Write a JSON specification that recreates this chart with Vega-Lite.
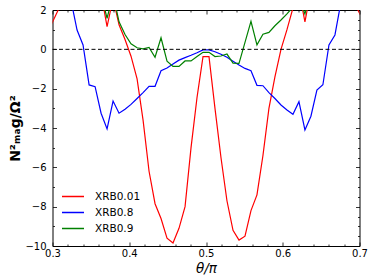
{
  "$schema": "https://vega.github.io/schema/vega-lite/v6.json",
  "width": 307,
  "height": 236,
  "autosize": {"type": "none"},
  "padding": {"left": 52.5, "top": 10, "right": 14.5, "bottom": 34},
  "config": {
    "font": "DejaVu Sans",
    "view": {"stroke": null},
    "axis": {
      "domainColor": "black", "domainWidth": 1, "tickColor": "black", "tickWidth": 0.8,
      "labelFont": "DejaVu Sans", "labelFontSize": 10, "labelColor": "black",
      "grid": false, "titleColor": "black", "labelFlush": false, "labelOverlap": false
    }
  },
  "datasets": {
    "lines": [
      {"series":"XRB0.01","theta":0.2930,"value":0.8},
      {"series":"XRB0.01","theta":0.3008,"value":1.45},
      {"series":"XRB0.01","theta":0.3086,"value":2.1},
      {"series":"XRB0.01","theta":0.3164,"value":3.0},
      {"series":"XRB0.01","theta":0.3242,"value":4.0},
      {"series":"XRB0.01","theta":0.3320,"value":4.5},
      {"series":"XRB0.01","theta":0.3398,"value":4.5},
      {"series":"XRB0.01","theta":0.3477,"value":4.0},
      {"series":"XRB0.01","theta":0.3555,"value":3.5},
      {"series":"XRB0.01","theta":0.3633,"value":2.85},
      {"series":"XRB0.01","theta":0.3711,"value":1.15},
      {"series":"XRB0.01","theta":0.3789,"value":2.6},
      {"series":"XRB0.01","theta":0.3867,"value":1.25},
      {"series":"XRB0.01","theta":0.3945,"value":0.5},
      {"series":"XRB0.01","theta":0.4023,"value":-0.35},
      {"series":"XRB0.01","theta":0.4102,"value":-1.5},
      {"series":"XRB0.01","theta":0.4180,"value":-3.6},
      {"series":"XRB0.01","theta":0.4258,"value":-6.2},
      {"series":"XRB0.01","theta":0.4336,"value":-7.85},
      {"series":"XRB0.01","theta":0.4414,"value":-8.6},
      {"series":"XRB0.01","theta":0.4492,"value":-9.6},
      {"series":"XRB0.01","theta":0.4570,"value":-9.85},
      {"series":"XRB0.01","theta":0.4648,"value":-9.1},
      {"series":"XRB0.01","theta":0.4727,"value":-8.0},
      {"series":"XRB0.01","theta":0.4805,"value":-5.0},
      {"series":"XRB0.01","theta":0.4883,"value":-2.45},
      {"series":"XRB0.01","theta":0.4961,"value":-0.37},
      {"series":"XRB0.01","theta":0.5039,"value":-0.37},
      {"series":"XRB0.01","theta":0.5117,"value":-3.0},
      {"series":"XRB0.01","theta":0.5195,"value":-5.5},
      {"series":"XRB0.01","theta":0.5273,"value":-7.7},
      {"series":"XRB0.01","theta":0.5352,"value":-9.2},
      {"series":"XRB0.01","theta":0.5430,"value":-9.7},
      {"series":"XRB0.01","theta":0.5508,"value":-9.5},
      {"series":"XRB0.01","theta":0.5586,"value":-8.2},
      {"series":"XRB0.01","theta":0.5664,"value":-7.4},
      {"series":"XRB0.01","theta":0.5742,"value":-5.4},
      {"series":"XRB0.01","theta":0.5820,"value":-3.0},
      {"series":"XRB0.01","theta":0.5898,"value":-1.4},
      {"series":"XRB0.01","theta":0.5977,"value":0.0},
      {"series":"XRB0.01","theta":0.6055,"value":1.0},
      {"series":"XRB0.01","theta":0.6133,"value":2.1},
      {"series":"XRB0.01","theta":0.6211,"value":3.0},
      {"series":"XRB0.01","theta":0.6289,"value":1.4},
      {"series":"XRB0.01","theta":0.6367,"value":3.0},
      {"series":"XRB0.01","theta":0.6445,"value":4.0},
      {"series":"XRB0.01","theta":0.6523,"value":4.5},
      {"series":"XRB0.01","theta":0.6602,"value":4.5},
      {"series":"XRB0.01","theta":0.6680,"value":4.0},
      {"series":"XRB0.01","theta":0.6758,"value":3.5},
      {"series":"XRB0.01","theta":0.6836,"value":3.0},
      {"series":"XRB0.01","theta":0.6914,"value":2.5},
      {"series":"XRB0.01","theta":0.6992,"value":1.9},
      {"series":"XRB0.01","theta":0.7070,"value":1.3},

      {"series":"XRB0.8","theta":0.2930,"value":7},
      {"series":"XRB0.8","theta":0.3008,"value":6},
      {"series":"XRB0.8","theta":0.3086,"value":5},
      {"series":"XRB0.8","theta":0.3164,"value":4},
      {"series":"XRB0.8","theta":0.3242,"value":2.47},
      {"series":"XRB0.8","theta":0.3320,"value":0.98},
      {"series":"XRB0.8","theta":0.3398,"value":0.22},
      {"series":"XRB0.8","theta":0.3477,"value":-1.81},
      {"series":"XRB0.8","theta":0.3555,"value":-1.9},
      {"series":"XRB0.8","theta":0.3633,"value":-3.25},
      {"series":"XRB0.8","theta":0.3711,"value":-4.05},
      {"series":"XRB0.8","theta":0.3789,"value":-2.63},
      {"series":"XRB0.8","theta":0.3867,"value":-3.25},
      {"series":"XRB0.8","theta":0.3945,"value":-3.05},
      {"series":"XRB0.8","theta":0.4023,"value":-2.8},
      {"series":"XRB0.8","theta":0.4102,"value":-2.5},
      {"series":"XRB0.8","theta":0.4180,"value":-2.2},
      {"series":"XRB0.8","theta":0.4258,"value":-1.88},
      {"series":"XRB0.8","theta":0.4336,"value":-1.88},
      {"series":"XRB0.8","theta":0.4414,"value":-1.09},
      {"series":"XRB0.8","theta":0.4492,"value":-0.95},
      {"series":"XRB0.8","theta":0.4570,"value":-0.75},
      {"series":"XRB0.8","theta":0.4648,"value":-0.55},
      {"series":"XRB0.8","theta":0.4727,"value":-0.42},
      {"series":"XRB0.8","theta":0.4805,"value":-0.3},
      {"series":"XRB0.8","theta":0.4883,"value":-0.17},
      {"series":"XRB0.8","theta":0.4961,"value":-0.03},
      {"series":"XRB0.8","theta":0.5039,"value":-0.03},
      {"series":"XRB0.8","theta":0.5117,"value":-0.12},
      {"series":"XRB0.8","theta":0.5195,"value":-0.25},
      {"series":"XRB0.8","theta":0.5273,"value":-0.4},
      {"series":"XRB0.8","theta":0.5352,"value":-0.6},
      {"series":"XRB0.8","theta":0.5430,"value":-0.8},
      {"series":"XRB0.8","theta":0.5508,"value":-0.97},
      {"series":"XRB0.8","theta":0.5586,"value":-1.09},
      {"series":"XRB0.8","theta":0.5664,"value":-1.83},
      {"series":"XRB0.8","theta":0.5742,"value":-1.85},
      {"series":"XRB0.8","theta":0.5820,"value":-2.2},
      {"series":"XRB0.8","theta":0.5898,"value":-2.5},
      {"series":"XRB0.8","theta":0.5977,"value":-2.83},
      {"series":"XRB0.8","theta":0.6055,"value":-3.08},
      {"series":"XRB0.8","theta":0.6133,"value":-3.3},
      {"series":"XRB0.8","theta":0.6211,"value":-2.66},
      {"series":"XRB0.8","theta":0.6289,"value":-4.1},
      {"series":"XRB0.8","theta":0.6367,"value":-3.4},
      {"series":"XRB0.8","theta":0.6445,"value":-2.07},
      {"series":"XRB0.8","theta":0.6523,"value":-1.8},
      {"series":"XRB0.8","theta":0.6602,"value":0.22},
      {"series":"XRB0.8","theta":0.6680,"value":0.73},
      {"series":"XRB0.8","theta":0.6758,"value":2.39},
      {"series":"XRB0.8","theta":0.6836,"value":4},
      {"series":"XRB0.8","theta":0.6914,"value":5},
      {"series":"XRB0.8","theta":0.6992,"value":6},
      {"series":"XRB0.8","theta":0.7070,"value":7},

      {"series":"XRB0.9","theta":0.2930,"value":5},
      {"series":"XRB0.9","theta":0.3008,"value":5},
      {"series":"XRB0.9","theta":0.3086,"value":5},
      {"series":"XRB0.9","theta":0.3164,"value":5},
      {"series":"XRB0.9","theta":0.3242,"value":5},
      {"series":"XRB0.9","theta":0.3320,"value":5},
      {"series":"XRB0.9","theta":0.3398,"value":5},
      {"series":"XRB0.9","theta":0.3477,"value":4},
      {"series":"XRB0.9","theta":0.3555,"value":3.5},
      {"series":"XRB0.9","theta":0.3633,"value":2.8},
      {"series":"XRB0.9","theta":0.3711,"value":1.58},
      {"series":"XRB0.9","theta":0.3789,"value":2.8},
      {"series":"XRB0.9","theta":0.3867,"value":1.4},
      {"series":"XRB0.9","theta":0.3945,"value":0.75},
      {"series":"XRB0.9","theta":0.4023,"value":0.28},
      {"series":"XRB0.9","theta":0.4102,"value":0.08},
      {"series":"XRB0.9","theta":0.4180,"value":0.02},
      {"series":"XRB0.9","theta":0.4258,"value":0.1},
      {"series":"XRB0.9","theta":0.4336,"value":-0.4},
      {"series":"XRB0.9","theta":0.4414,"value":0.59},
      {"series":"XRB0.9","theta":0.4492,"value":-0.6},
      {"series":"XRB0.9","theta":0.4570,"value":-0.87},
      {"series":"XRB0.9","theta":0.4648,"value":-0.87},
      {"series":"XRB0.9","theta":0.4727,"value":-0.59},
      {"series":"XRB0.9","theta":0.4805,"value":-0.59},
      {"series":"XRB0.9","theta":0.4883,"value":-0.37},
      {"series":"XRB0.9","theta":0.4961,"value":-0.15},
      {"series":"XRB0.9","theta":0.5039,"value":-0.15},
      {"series":"XRB0.9","theta":0.5117,"value":-0.37},
      {"series":"XRB0.9","theta":0.5195,"value":-0.34},
      {"series":"XRB0.9","theta":0.5273,"value":-0.24},
      {"series":"XRB0.9","theta":0.5352,"value":-0.7},
      {"series":"XRB0.9","theta":0.5430,"value":-0.71},
      {"series":"XRB0.9","theta":0.5508,"value":0.35},
      {"series":"XRB0.9","theta":0.5586,"value":1.42},
      {"series":"XRB0.9","theta":0.5664,"value":0.23},
      {"series":"XRB0.9","theta":0.5742,"value":0.77},
      {"series":"XRB0.9","theta":0.5820,"value":0.86},
      {"series":"XRB0.9","theta":0.5898,"value":1.2},
      {"series":"XRB0.9","theta":0.5977,"value":1.49},
      {"series":"XRB0.9","theta":0.6055,"value":1.8},
      {"series":"XRB0.9","theta":0.6133,"value":2.15},
      {"series":"XRB0.9","theta":0.6211,"value":2.6},
      {"series":"XRB0.9","theta":0.6289,"value":1.8},
      {"series":"XRB0.9","theta":0.6367,"value":3},
      {"series":"XRB0.9","theta":0.6445,"value":4},
      {"series":"XRB0.9","theta":0.6523,"value":4},
      {"series":"XRB0.9","theta":0.6602,"value":4},
      {"series":"XRB0.9","theta":0.6680,"value":4},
      {"series":"XRB0.9","theta":0.6758,"value":4},
      {"series":"XRB0.9","theta":0.6836,"value":4},
      {"series":"XRB0.9","theta":0.6914,"value":4},
      {"series":"XRB0.9","theta":0.6992,"value":4},
      {"series":"XRB0.9","theta":0.7070,"value":4}
    ]
  },
  "layer": [
    {
      "data": {"name": "lines"},
      "mark": {"type": "line", "strokeWidth": 1.2, "clip": true},
      "encoding": {
        "x": {
          "field": "theta", "type": "quantitative",
          "scale": {"domain": [0.3, 0.7], "nice": false, "zero": false},
          "axis": {
            "orient": "bottom",
            "values": [0.3,0.32,0.34,0.36,0.38,0.4,0.42,0.44,0.46,0.48,0.5,0.52,0.54,0.56,0.58,0.6,0.62,0.64,0.66,0.68,0.7],
            "format": ".1f",
            "labelExpr": "abs(datum.value*10 - round(datum.value*10)) < 0.001 ? datum.label : ''",
            "tickSize": {"condition": {"test": "abs(datum.value*10 - round(datum.value*10)) < 0.001", "value": -4}, "value": -2},
            "labelPadding": 6,
            "title": "θ/π", "titleFontStyle": "italic", "titleFontSize": 13.5, "titleFontWeight": "normal", "titlePadding": 1
          }
        },
        "y": {
          "field": "value", "type": "quantitative",
          "scale": {"domain": [-10, 2], "nice": false, "zero": false},
          "axis": {
            "orient": "left",
            "values": [-10,-9.5,-9,-8.5,-8,-7.5,-7,-6.5,-6,-5.5,-5,-4.5,-4,-3.5,-3,-2.5,-2,-1.5,-1,-0.5,0,0.5,1,1.5,2],
            "format": "d",
            "labelExpr": "datum.value % 2 == 0 ? datum.label : ''",
            "tickSize": {"condition": {"test": "datum.value % 2 == 0", "value": -4}, "value": -2},
            "labelPadding": 10.5,
            "title": "N²ₘₐg/Ω²", "titleFontSize": 14, "titleFontWeight": "bold", "titlePadding": 2
          }
        },
        "color": {
          "field": "series", "type": "nominal",
          "scale": {"domain": ["XRB0.01", "XRB0.8", "XRB0.9"], "range": ["#ff0000", "#0000ff", "#008000"]},
          "legend": {
            "orient": "none", "legendX": 14, "legendY": 180, "title": null,
            "symbolType": "M-2,0H2", "symbolSize": 121, "symbolStrokeWidth": 1.5,
            "labelFontSize": 10.5, "labelFont": "DejaVu Sans", "labelColor": "black",
            "labelOffset": 15.5, "rowPadding": 4, "padding": 0
          }
        }
      }
    },
    {
      "data": {"values": [{}]},
      "mark": {"type": "rule", "color": "black", "strokeWidth": 1, "strokeDash": [4, 2.5]},
      "encoding": {
        "x": {
          "datum": 0.3, "type": "quantitative",
          "axis": {
            "orient": "top",
            "values": [0.3,0.32,0.34,0.36,0.38,0.4,0.42,0.44,0.46,0.48,0.5,0.52,0.54,0.56,0.58,0.6,0.62,0.64,0.66,0.68,0.7],
            "labels": false, "title": null,
            "tickSize": {"condition": {"test": "abs(datum.value*10 - round(datum.value*10)) < 0.001", "value": -4}, "value": -2}
          }
        },
        "x2": {"datum": 0.7},
        "y": {
          "datum": 0, "type": "quantitative",
          "axis": {
            "orient": "right",
            "values": [-10,-9.5,-9,-8.5,-8,-7.5,-7,-6.5,-6,-5.5,-5,-4.5,-4,-3.5,-3,-2.5,-2,-1.5,-1,-0.5,0,0.5,1,1.5,2],
            "labels": false, "title": null,
            "tickSize": {"condition": {"test": "datum.value % 2 == 0", "value": -4}, "value": -2}
          }
        }
      }
    }
  ],
  "resolve": {"axis": {"x": "independent", "y": "independent"}}
}
